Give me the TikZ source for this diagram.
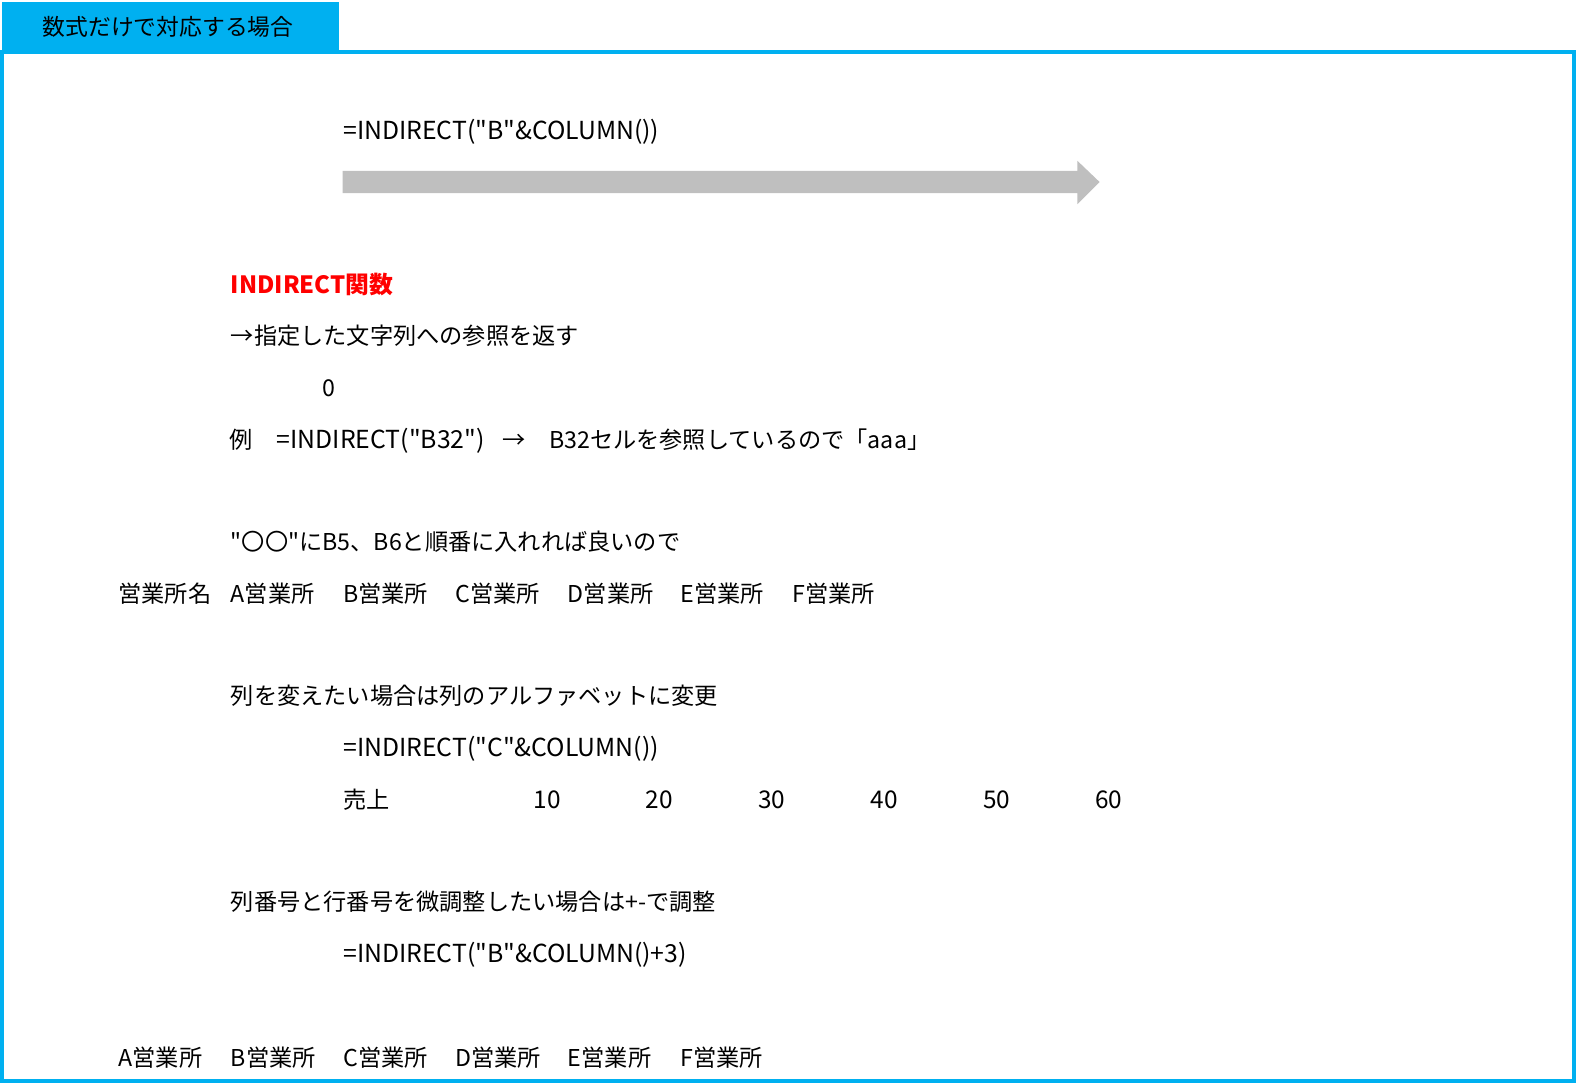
\documentclass[tikz,border=0pt]{standalone}
\usepackage{fontspec}
\setmainfont{Noto Sans CJK JP}[Ligatures=TeXOff]
\usetikzlibrary{math}

\definecolor{tabblue}{RGB}{0,176,240}
\definecolor{arrowgray}{RGB}{191,191,191}

\begin{document}
\begin{tikzpicture}
  [x=0.50255pt,y=-0.50278pt,
   cell/.style={anchor=west,inner sep=0pt,yshift=-1.5pt,text height=0.88em,text depth=0.12em,font=\fontsize{11.6pt}{14pt}\selectfont},
   formula/.style={cell,font=\fontsize{12.4pt}{15pt}\selectfont},
   num/.style={cell,anchor=east,font=\fontsize{12.2pt}{15pt}\selectfont},
   title/.style={cell,text=red,font=\fontsize{11.9pt}{14pt}\selectfont\bfseries},]
  \tikzmath{\cw=111.8; \cz=117.5;}
  \useasboundingbox (0,0) rectangle (1568,1078);

  % tab and frame
  \fill[tabblue] (2,2) rectangle (337,50);
  \node (tab) at (42,25)[cell,font=\fontsize{11.4pt}{14pt}\selectfont]{数式だけで対応する場合};
  \draw[tabblue,line width=2pt] (2,52) rectangle (1566,1075);

  % formula and gray arrow
  \node (f1) at ({\cz+2*\cw},128)[formula]{=INDIRECT("B"\&COLUMN())};
  \fill[arrowgray] (341,170) -- (1072,170) -- (1072,160) -- (1094,181) -- (1072,203) -- (1072,192) -- (341,192) -- cycle;

  % explanation
  \node (head) at ({\cz+\cw},281)[title]{INDIRECT関数};
  \node (desc) at ({\cz+\cw},332)[cell]{→指定した文字列への参照を返す};
  \node (zero) at (320,384)[cell]{0};
  \node (ex) at (228,435)[cell]{例};
  \node (exf) at (275,435)[formula]{=INDIRECT("B32")};
  \node (exa) at (500,435)[cell]{→};
  \node (exr) at (546,435)[cell]{B32セルを参照しているので「aaa」};
  \node (note1) at ({\cz+\cw},537)[cell]{"〇〇"にB5、B6と順番に入れれば良いので};

  % office row
  \node (name) at (\cz,589)[cell]{営業所名};
  \foreach \n [count=\k] in {A,B,C,D,E,F}
    \node (top\n) at ({\cz+\k*\cw},589)[cell]{\n 営業所};

  \node (note2) at ({\cz+\cw},690)[cell]{列を変えたい場合は列のアルファベットに変更};
  \node (f2) at ({\cz+2*\cw},742)[formula]{=INDIRECT("C"\&COLUMN())};

  % sales row
  \node (sales) at ({\cz+2*\cw},793)[cell]{売上};
  \foreach \v [count=\k from 3] in {10,20,30,40,50,60}
    \node (sales\v) at ({\cz+(\k+1)*\cw-6.5},793)[num]{\v};

  \node (note3) at ({\cz+\cw},895)[cell]{列番号と行番号を微調整したい場合は+-で調整};
  \node (f3) at ({\cz+2*\cw},947)[formula]{=INDIRECT("B"\&COLUMN()+3)};

  % shifted office row
  \foreach \n [count=\k from 0] in {A,B,C,D,E,F}
    \node (low\n) at ({\cz+\k*\cw},1050)[cell]{\n 営業所};
\end{tikzpicture}
\end{document}
